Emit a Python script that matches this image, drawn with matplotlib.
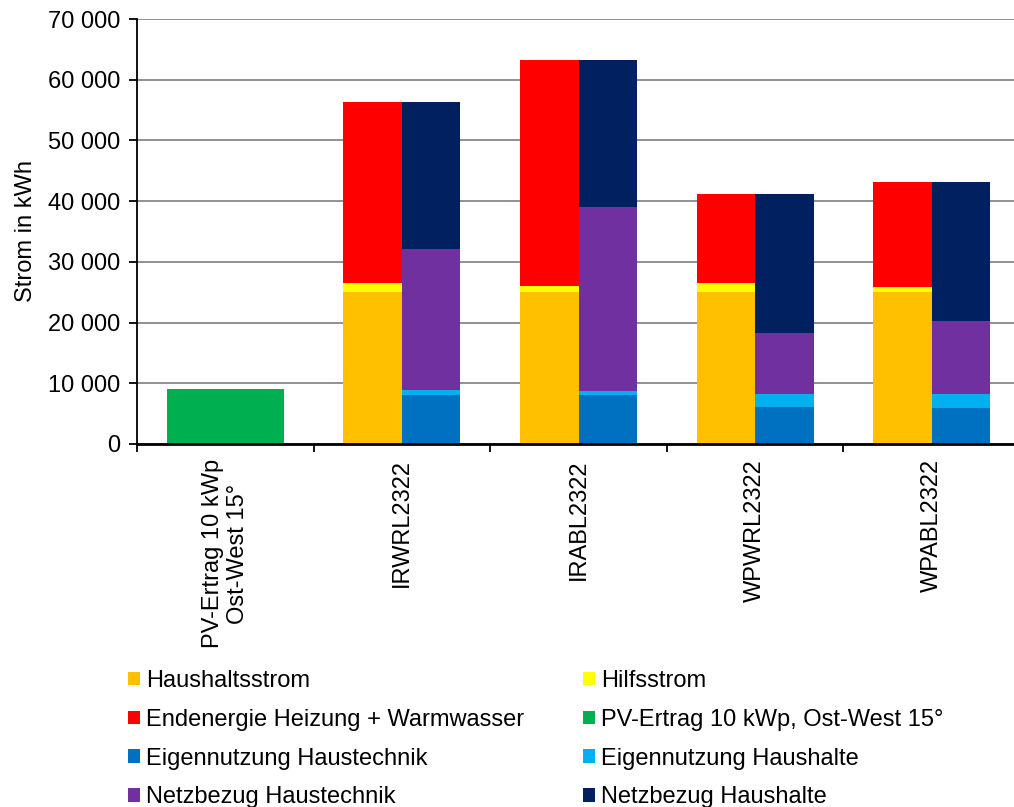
import matplotlib.pyplot as plt
from matplotlib.patches import Patch
from matplotlib.ticker import FuncFormatter, FixedLocator

plt.rcParams['font.family'] = ['Liberation Sans', 'DejaVu Sans']

# categories
groups = ["PV-Ertrag 10 kWp\nOst-West 15°", "IRWRL2322", "IRABL2322", "WPWRL2322", "WPABL2322"]

# PV yield (first group only)
pv_ertrag = [9000]

# left stacks (groups 2-5)
haushaltsstrom = [25000, 25000, 25000, 25000]
hilfsstrom = [1600, 1000, 1600, 800]
endenergie = [29800, 37300, 14500, 17400]

# right stacks (groups 2-5)
eig_haustechnik = [8100, 8100, 6100, 5900]
eig_haushalte = [800, 700, 2100, 2300]
netz_haustechnik = [23300, 30300, 10100, 12100]
netz_haushalte = [24200, 24200, 22800, 22900]

colors = {
    'Haushaltsstrom': '#FFC000',
    'Hilfsstrom': '#FFFF00',
    'Endenergie Heizung + Warmwasser': '#FF0000',
    'PV-Ertrag 10 kWp, Ost-West 15°': '#00B050',
    'Eigennutzung Haustechnik': '#0070C0',
    'Eigennutzung Haushalte': '#00B0F0',
    'Netzbezug Haustechnik': '#7030A0',
    'Netzbezug Haushalte': '#002060',
}

fs = 17

fig = plt.figure(figsize=(10.14, 8.07), dpi=100)
ax = fig.add_axes([137 / 1014, 1 - 444 / 807, (1020 - 137) / 1014, (444 - 19) / 807])

w = 0.331
xs = [1, 2, 3, 4]
left_x = [x - w / 2 for x in xs]
right_x = [x + w / 2 for x in xs]

ax.bar([0], pv_ertrag, width=2 * w, color=colors['PV-Ertrag 10 kWp, Ost-West 15°'], zorder=2)

bottom = [0] * 4
for name, vals in [('Haushaltsstrom', haushaltsstrom), ('Hilfsstrom', hilfsstrom),
                   ('Endenergie Heizung + Warmwasser', endenergie)]:
    ax.bar(left_x, vals, width=w, bottom=bottom, color=colors[name], zorder=2)
    bottom = [b + v for b, v in zip(bottom, vals)]

bottom = [0] * 4
for name, vals in [('Eigennutzung Haustechnik', eig_haustechnik), ('Eigennutzung Haushalte', eig_haushalte),
                   ('Netzbezug Haustechnik', netz_haustechnik), ('Netzbezug Haushalte', netz_haushalte)]:
    ax.bar(right_x, vals, width=w, bottom=bottom, color=colors[name], zorder=2)
    bottom = [b + v for b, v in zip(bottom, vals)]

ax.set_xlim(-0.5, 4.5)
ax.set_ylim(0, 70000)
ax.set_yticks(range(0, 70001, 10000))
ax.yaxis.set_major_formatter(FuncFormatter(lambda v, p: f"{int(v):,}".replace(",", " ")))
ax.yaxis.grid(True, color='#888888', linewidth=1.3, zorder=0)
ax.set_axisbelow(True)

# category labels at centers, tick marks at boundaries
ax.set_xticks(range(len(groups)))
ax.set_xticklabels(groups, rotation=90, ha='center', va='top', multialignment='center')
ax.tick_params(axis='x', which='major', length=0, pad=11)
ax.xaxis.set_minor_locator(FixedLocator([-0.5, 0.5, 1.5, 2.5, 3.5, 4.5]))
ax.tick_params(axis='x', which='minor', length=6, width=1.3, direction='out')
ax.tick_params(axis='y', length=6, width=1.3, direction='out', pad=6)
ax.tick_params(labelsize=fs)

for s in ['top', 'right']:
    ax.spines[s].set_visible(False)
ax.spines['left'].set_linewidth(1.3)
ax.spines['bottom'].set_linewidth(2)

ax.set_ylabel('Strom in kWh', fontsize=fs, labelpad=8)

col1 = ['Haushaltsstrom', 'Endenergie Heizung + Warmwasser', 'Eigennutzung Haustechnik', 'Netzbezug Haustechnik']
col2 = ['Hilfsstrom', 'PV-Ertrag 10 kWp, Ost-West 15°', 'Eigennutzung Haushalte', 'Netzbezug Haushalte']
for names, x0 in [(col1, 128), (col2, 583)]:
    handles = [Patch(facecolor=colors[n], label=n) for n in names]
    fig.legend(handles=handles, loc='upper left', bbox_to_anchor=(x0 / 1014, 1 - 670 / 807),
               frameon=False, fontsize=fs, handlelength=0.5, handleheight=0.5,
               handletextpad=0.25, labelspacing=0.71, borderpad=0, borderaxespad=0)

fig.savefig('out.png', dpi=100)
